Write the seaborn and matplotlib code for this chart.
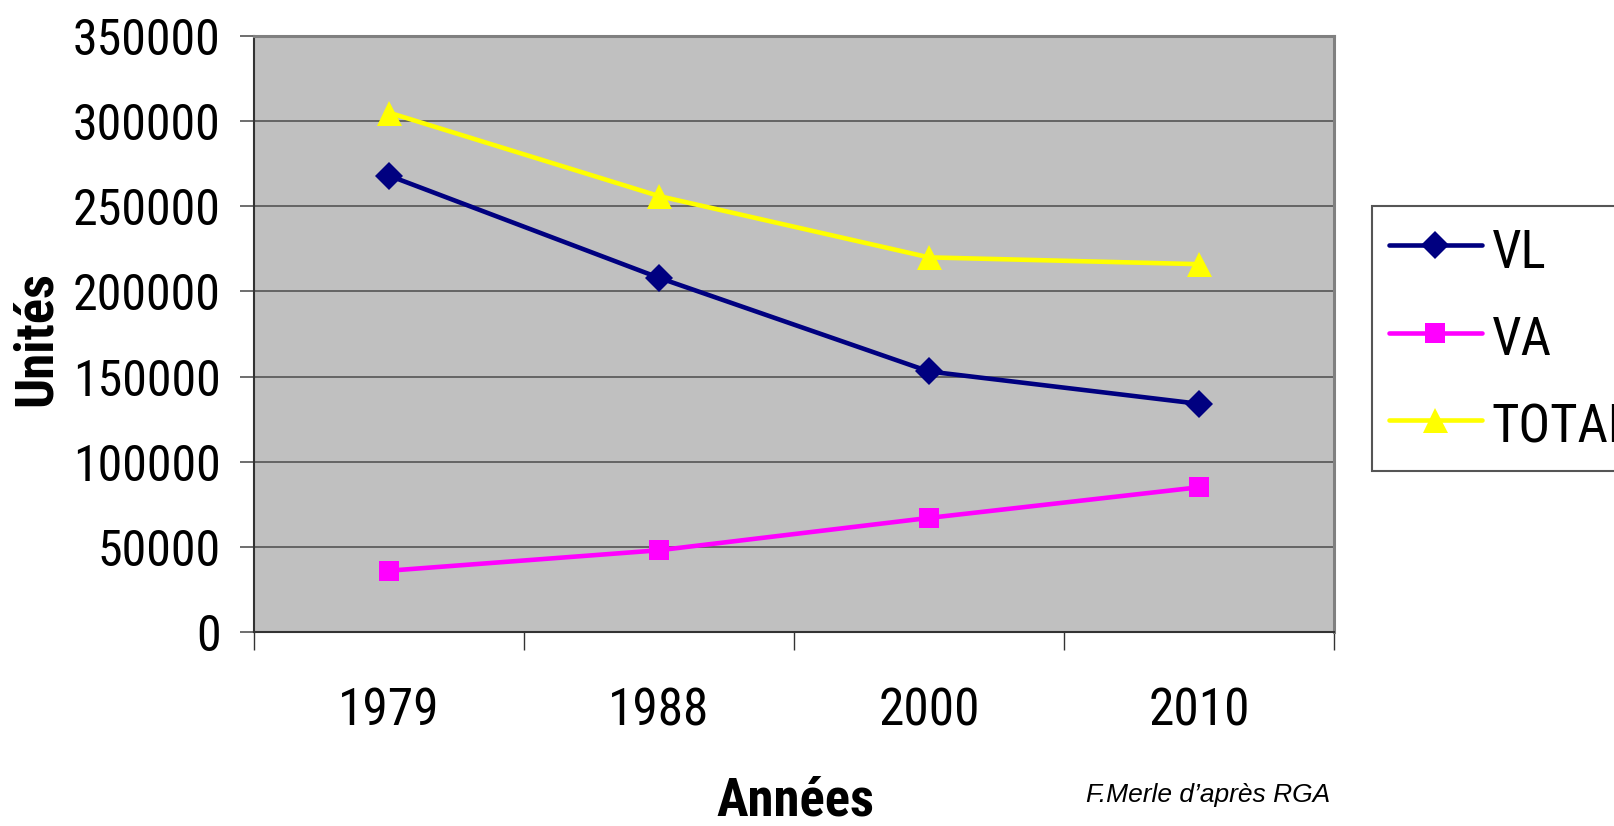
import matplotlib
matplotlib.use("Agg")
import numpy as np
import pandas as pd
import matplotlib.pyplot as plt
import seaborn as sns

# Values
years = ["1979", "1988", "2000", "2010"]
vl = [268000, 208000, 153000, 134000]
va = [36000, 48000, 67000, 85000]
total = [305000, 256000, 220000, 216000]

series_names = ["VL", "VA", "TOTAL"]
series_colors = {"VL": "#000080", "VA": "#FF00FF", "TOTAL": "#FFFF00"}
series_markers = {"VL": "D", "VA": "s", "TOTAL": "^"}
marker_sizes = {"VL": 14, "VA": 14, "TOTAL": 18}

y_ticks = [0, 50000, 100000, 150000, 200000, 250000, 300000, 350000]

df = pd.DataFrame({
    "Année": years * 3,
    "Unités": vl + va + total,
    "Série": np.repeat(series_names, len(years)),
})

sns.set_style("white")
plt.rcParams["font.family"] = ["Roboto Condensed", "Liberation Sans", "DejaVu Sans"]
plt.rcParams["text.color"] = "black"
plt.rcParams["xtick.color"] = "black"
plt.rcParams["ytick.color"] = "black"
plt.rcParams["axes.labelcolor"] = "black"

W, H = 1614, 826
fig = plt.figure(figsize=(W / 100, H / 100), dpi=100)
fig.patch.set_facecolor("white")
ax_left, ax_right, ax_top, ax_bottom = 254, 1334, 36, 632
ax = fig.add_axes([ax_left / W, 1 - ax_bottom / H, (ax_right - ax_left) / W, (ax_bottom - ax_top) / H])
ax.set_facecolor("#C0C0C0")

for name in series_names:
    sub = df[df["Série"] == name]
    sns.lineplot(data=sub, x="Année", y="Unités", ax=ax, errorbar=None,
                 color=series_colors[name], marker=series_markers[name],
                 markersize=marker_sizes[name], markeredgewidth=0,
                 markeredgecolor=series_colors[name], linewidth=3.3, label=name)

ax.set_xlim(-0.5, len(years) - 0.5)
ax.set_ylim(0, 350000)
ax.set_yticks(y_ticks)
ax.set_yticklabels([str(v) for v in y_ticks])
ax.set_xticks(range(len(years)))
ax.set_xticklabels(years)
ax.set_xticks(np.arange(-0.5, len(years), 1.0), minor=True)

ax.grid(axis="y", color="#555555", linewidth=1.2)
ax.grid(axis="x", visible=False)
ax.set_axisbelow(True)

ax.tick_params(axis="y", which="major", left=True, direction="out", length=10,
               width=1.2, color="#555555", pad=14, labelsize=36)
ax.tick_params(axis="x", which="major", bottom=True, length=0, pad=39, labelsize=37)
ax.tick_params(axis="x", which="minor", bottom=True, direction="out", length=13,
               width=1, color="#333333")

for side in ["top", "right"]:
    ax.spines[side].set_color("#808080")
    ax.spines[side].set_linewidth(2.2)
for side in ["left", "bottom"]:
    ax.spines[side].set_color("#333333")
    ax.spines[side].set_linewidth(1.5)

ax.set_xlabel("Années", fontsize=38, fontweight="bold")
ax.xaxis.set_label_coords((795 - ax_left) / (ax_right - ax_left), (ax_bottom - 801) / (ax_bottom - ax_top))
ax.xaxis.label.set_va("center")
ax.set_ylabel("Unités", fontsize=38, fontweight="bold")
ax.yaxis.set_label_coords((36 - ax_left) / (ax_right - ax_left), (ax_bottom - 338) / (ax_bottom - ax_top))
ax.yaxis.label.set_va("center")

handles, labels = ax.get_legend_handles_labels()
leg = ax.legend(handles, labels, loc="upper left",
                bbox_to_anchor=(1372 / W, 1 - 206 / H), bbox_transform=fig.transFigure,
                fontsize=38, frameon=True, fancybox=False, shadow=False, framealpha=1,
                edgecolor="#555555", borderpad=0.32, labelspacing=0.6, handleheight=1.2,
                handlelength=1.76, handletextpad=0.19, borderaxespad=0)
leg.get_frame().set_linewidth(1.5)

fig.text(1330 / W, 1 - 795 / H, "F.Merle d\u2019après RGA", ha="right", va="center",
         fontsize=19, style="italic", family=["Liberation Sans", "DejaVu Sans"])

fig.savefig("out.png", dpi=100)
plt.close(fig)
